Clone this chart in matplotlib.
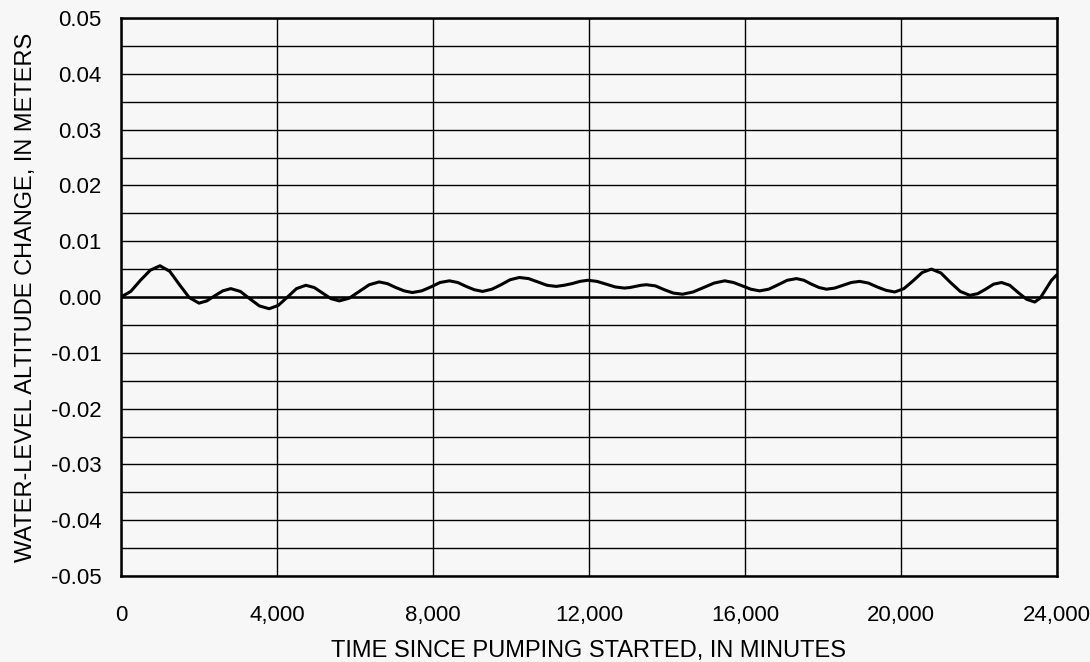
import matplotlib
matplotlib.use("Agg")
import matplotlib.pyplot as plt
from matplotlib.ticker import FuncFormatter, MultipleLocator

plt.rcParams['font.family'] = ['Liberation Sans', 'DejaVu Sans']

# Time since pumping started (minutes) and water-level change (meters)
time_min = [
    0, 250, 500, 750, 1000, 1250, 1500, 1750, 2000, 2200, 2400, 2610, 2815,
    3060, 3300, 3550, 3800, 4035, 4270, 4500, 4740, 4955, 5170, 5385, 5600,
    5855, 6110, 6365, 6620, 6830, 7045, 7260, 7470, 7710, 7945, 8180, 8420,
    8635, 8850, 9060, 9275, 9510, 9745, 9980, 10215, 10450, 10690, 10925, 11160,
    11360, 11565, 11770, 11970, 12205, 12440, 12675, 12910, 13050, 13190, 13330, 13470,
    13700, 13935, 14165, 14400, 14670, 14940, 15210, 15480, 15705, 15930, 16150, 16375,
    16610, 16850, 17085, 17320, 17510, 17705, 17900, 18090, 18300, 18515, 18725, 18940,
    19165, 19390, 19615, 19840, 20075, 20310, 20545, 20780, 21025, 21270, 21520, 21765,
    21970, 22170, 22375, 22580, 22790, 23005, 23220, 23430, 23570, 23715, 23860, 24000,
]
change_m = [
    0.0000, 0.0010, 0.0030, 0.0048, 0.0056, 0.0046, 0.0022, -0.0001, -0.0011, -0.0007, 0.0002, 0.0011, 0.0015,
    0.0010, -0.0003, -0.0016, -0.0021, -0.0015, 0.0000, 0.0015, 0.0021, 0.0017, 0.0007, -0.0003, -0.0007,
    -0.0002, 0.0010, 0.0022, 0.0027, 0.0024, 0.0017, 0.0011, 0.0008, 0.0011, 0.0018, 0.0026, 0.0029,
    0.0026, 0.0019, 0.0013, 0.0010, 0.0014, 0.0022, 0.0031, 0.0035, 0.0033, 0.0027, 0.0021, 0.0019,
    0.0021, 0.0024, 0.0028, 0.0030, 0.0028, 0.0023, 0.0018, 0.0016, 0.0017, 0.0019, 0.0021, 0.0022,
    0.0020, 0.0013, 0.0007, 0.0005, 0.0009, 0.0017, 0.0025, 0.0029, 0.0026, 0.0020, 0.0014, 0.0011,
    0.0014, 0.0022, 0.0030, 0.0033, 0.0030, 0.0023, 0.0017, 0.0014, 0.0016, 0.0021, 0.0026, 0.0028,
    0.0025, 0.0018, 0.0012, 0.0009, 0.0015, 0.0029, 0.0044, 0.0050, 0.0043, 0.0026, 0.0010, 0.0003,
    0.0006, 0.0014, 0.0023, 0.0026, 0.0021, 0.0008, -0.0004, -0.0009, -0.0002, 0.0014, 0.0030, 0.0040,
]

x_ticks = [0, 4000, 8000, 12000, 16000, 20000, 24000]
y_ticks = [0.05, 0.04, 0.03, 0.02, 0.01, 0.00, -0.01, -0.02, -0.03, -0.04, -0.05]

bg = '#f7f7f7'
fig = plt.figure(figsize=(10.9, 6.62), dpi=100, facecolor=bg)
ax = fig.add_axes([0.1110, 0.1299, 0.8587, 0.8429], facecolor=bg)

ax.set_xlim(0, 24000)
ax.set_ylim(-0.05, 0.05)
ax.set_xticks(x_ticks)
ax.set_yticks(y_ticks)
ax.yaxis.set_minor_locator(MultipleLocator(0.005))
ax.xaxis.set_major_formatter(FuncFormatter(lambda v, p: f"{int(v):,}"))
ax.yaxis.set_major_formatter(FuncFormatter(lambda v, p: f"{v:.2f}" if abs(v) > 1e-9 else "0.00"))

ax.grid(True, which='both', axis='y', color='black', linewidth=1.0)
ax.grid(True, which='major', axis='x', color='black', linewidth=1.0)
ax.tick_params(which='both', length=0)
ax.tick_params(axis='x', pad=21, labelsize=16)
ax.tick_params(axis='y', pad=14, labelsize=16)

ax.axhline(0, color='black', linewidth=1.8, zorder=3)
ax.plot(time_min, change_m, color='black', linewidth=2.2, zorder=4,
        solid_joinstyle='round', solid_capstyle='round')

for s in ax.spines.values():
    s.set_linewidth(1.8)
    s.set_color('black')
    s.set_zorder(5)

ax.set_xlabel("TIME SINCE PUMPING STARTED, IN MINUTES", fontsize=17, labelpad=10)
ax.set_ylabel("WATER-LEVEL ALTITUDE CHANGE, IN METERS", fontsize=17, labelpad=10)

fig.savefig("out.png", dpi=100, facecolor=bg)
